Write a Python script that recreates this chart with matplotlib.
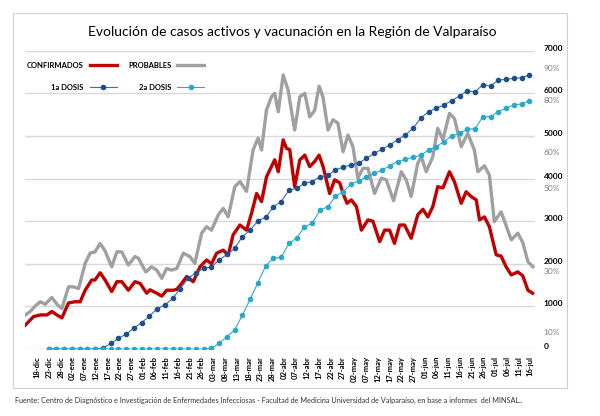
import numpy as np
import pandas as pd
import matplotlib
matplotlib.use('Agg')
import matplotlib.pyplot as plt
from matplotlib.patches import Rectangle

plt.rcParams['font.family'] = ['Lato', 'DejaVu Sans']

# Casos activos, en miles (dias contados desde el 18-dic-2020)
dias_conf = [-5.1, -1.6, 1.3, 4.1, 6.2, 8.4, 10.5, 13.3, 16.1, 18.3,
             20.4, 23.2, 24.6, 26.8, 28.9, 31.7, 33.9, 36, 38.8, 41.6,
             43.8, 46.6, 48, 50.9, 53, 55.1, 57.9, 59.4, 61.5, 63.6,
             66.4, 69.3, 72.1, 74.2, 76.4, 79.2, 81.3, 83.4, 86.3, 89.1,
             91.2, 93.4, 95.5, 97.6, 99.7, 101.1, 102.6, 104.7, 106.1, 107.5,
             109.6, 111.8, 113.9, 116, 118.1, 120, 121.7, 124.5, 126.6, 128.8,
             130.2, 131.9, 133.7, 135.9, 138, 140.8, 142.9, 145.8, 147.9, 150,
             152.1, 154.3, 156.4, 159.2, 162, 164.2, 166.3, 168.4, 170.5, 172.7,
             175.5, 177.6, 180.5, 182.6, 184.7, 186.9, 188.3, 190.4, 192.5, 195.4,
             197.5, 199.6, 201.8, 204.6, 206.7, 208.9, 210.9]
confirmados = [0.56, 0.76, 0.80, 0.80, 0.88, 0.80, 0.73, 1.08, 1.11, 1.11,
               1.38, 1.62, 1.62, 1.79, 1.62, 1.35, 1.58, 1.58, 1.38, 1.58,
               1.54, 1.31, 1.39, 1.31, 1.24, 1.38, 1.38, 1.40, 1.54, 1.70,
               1.58, 1.93, 2.09, 2.00, 2.25, 2.32, 2.20, 2.68, 2.91, 2.79,
               3.18, 3.65, 3.46, 4.04, 4.28, 4.44, 4.16, 4.91, 4.71, 4.68,
               3.81, 4.44, 4.55, 4.28, 4.40, 4.55, 4.28, 3.65, 3.97, 3.90,
               3.65, 3.42, 3.50, 3.34, 2.79, 3.03, 3.00, 2.52, 2.79, 2.79,
               2.48, 2.91, 2.91, 2.60, 3.15, 3.28, 3.10, 3.34, 3.81, 3.78,
               4.16, 3.93, 3.42, 3.69, 3.58, 3.50, 3.03, 3.10, 2.87, 2.21,
               2.18, 1.93, 1.74, 1.81, 1.72, 1.38, 1.31]

dias_prob = [-5.1, -3.0, -0.85, 1.3, 3.4, 6.2, 8.4, 10.5, 13.3, 15.4,
             17.6, 20.4, 22.5, 24.6, 26.8, 28.9, 31.7, 33.9, 36, 38.8,
             41.6, 43.1, 46.2, 48.7, 50.9, 53, 55.1, 57.2, 59.4, 62.2,
             65, 67.1, 70, 72.1, 74.2, 77.1, 79.2, 81.3, 84.1, 86.3,
             89.1, 91.9, 94, 95.5, 97.6, 99.7, 101.1, 102.6, 104.7, 106.8,
             108.2, 109.6, 111.8, 113.9, 116, 118.1, 120, 121.7, 123.8, 125.9,
             128, 130.2, 132.3, 134.4, 136.5, 138.7, 140.8, 143.6, 146.5, 148.6,
             151.7, 155, 157.1, 159.2, 162, 163.5, 165.6, 168.4, 170.5,
             172.7, 175.5, 177.6, 180.5, 183.3, 186.1, 187.6, 190.4, 192.5, 194.6,
             197.5, 199.6, 201.8, 204.6, 206.7, 208.9, 211]
probables = [0.80, 0.88, 1.01, 1.11, 1.05, 1.21, 1.05, 0.95, 1.46, 1.46,
             1.42, 2.01, 2.25, 2.28, 2.48, 2.30, 1.93, 2.28, 2.28, 1.97,
             2.17, 2.13, 1.81, 1.93, 1.85, 1.66, 1.89, 1.85, 1.89, 2.25,
             2.17, 2.01, 2.72, 2.87, 2.79, 3.15, 3.30, 3.10, 3.81, 3.93,
             3.70, 4.67, 4.95, 4.67, 5.61, 5.92, 6.00, 5.57, 6.43, 6.08,
             5.60, 5.14, 5.92, 6.00, 5.45, 5.60, 6.17, 5.90, 5.14, 5.38,
             5.30, 4.63, 5.02, 4.75, 4.01, 4.24, 4.24, 3.65, 4.01, 3.97,
             3.48, 4.16, 3.97, 3.58, 4.36, 4.51, 4.16, 4.51, 5.18,
             4.91, 5.53, 5.41, 4.75, 5.06, 4.67, 4.16, 4.30, 4.08, 2.99,
             3.22, 2.90, 2.56, 2.72, 2.50, 2.05, 1.93]

# Vacunacion (en unidades del eje derecho, miles)
dosis1 = [0, 0, 0, 0, 0, 0, 0, 0.02, 0.13, 0.25, 0.35, 0.49, 0.62, 0.77,
          0.95, 1.03, 1.19, 1.42, 1.66, 1.79, 1.89, 1.93, 2.09, 2.22, 2.36,
          2.64, 2.79, 3.01, 3.09, 3.34, 3.46, 3.73, 3.77, 3.89, 3.93, 4.04,
          4.08, 4.20, 4.27, 4.32, 4.36, 4.48, 4.59, 4.69, 4.79, 4.91, 5.02,
          5.18, 5.42, 5.57, 5.65, 5.73, 5.83, 5.94, 6.06, 6.04, 6.20, 6.17,
          6.31, 6.33, 6.35, 6.37, 6.43]
dosis2 = [0, 0, 0, 0, 0, 0, 0, 0, 0, 0, 0, 0, 0, 0, 0, 0, 0, 0, 0, 0, 0,
          0.02, 0.13, 0.29, 0.45, 0.80, 1.17, 1.56, 1.95, 2.13, 2.15, 2.48,
          2.60, 2.87, 2.95, 3.26, 3.34, 3.58, 3.69, 3.87, 3.95, 4.04, 4.12,
          4.20, 4.30, 4.40, 4.45, 4.50, 4.55, 4.67, 4.75, 4.87, 5.00, 5.06,
          5.16, 5.17, 5.45, 5.45, 5.57, 5.65, 5.73, 5.75, 5.83]

meses = {12: 'dic', 1: 'ene', 2: 'feb', 3: 'mar', 4: 'abr', 5: 'may', 6: 'jun', 7: 'jul'}
pct_labels = ['90%', '80%', '60%', '50%', '30%', '10%']
pct_pos = [6600, 5850, 4620, 3780, 1820, 400]

inicio = pd.Timestamp('2020-12-18')
fechas = inicio + pd.to_timedelta(dias_conf, unit='D')
fechas_p = inicio + pd.to_timedelta(dias_prob, unit='D')
fechas_v = pd.date_range('2020-12-22 20:00', '2021-07-15 12:00', periods=len(dosis1))
ticks = pd.date_range('2020-12-18', '2021-07-16', freq='5D')

fig = plt.figure(figsize=(6, 4.16), dpi=100)
ax = fig.add_axes([0.042, 0.161, 0.85, 0.717])

ax.plot(fechas_p, np.array(probables) * 1000, color='#a0a0a0', lw=2.4, label='PROBABLES')
ax.plot(fechas, np.array(confirmados) * 1000, color='#c00000', lw=2.4, label='CONFIRMADOS')
ax.plot(fechas_v, np.array(dosis1) * 1000, color='#2e75b6', lw=0.8, marker='o',
        ms=3, mfc='#1f4e8c', mec='#1f4e8c', label='1a DOSIS')
ax.plot(fechas_v, np.array(dosis2) * 1000, color='#31a9cf', lw=0.8, marker='o',
        ms=3, mfc='#2aa8cc', mec='#2aa8cc', label='2a DOSIS')

ax.set_ylim(0, 7000)
ax.set_xlim(pd.Timestamp('2020-12-12 21:00'), pd.Timestamp('2021-07-18'))
ax.set_yticks(range(0, 7001, 1000))
ax.grid(axis='y', color='#d9d9d9', lw=1)
ax.set_axisbelow(True)
for s in ax.spines.values():
    s.set_visible(False)

ax.set_xticks(ticks)
ax.set_xticklabels(['%02d-%s' % (d.day, meses[d.month]) for d in ticks],
                   rotation=90, fontsize=5.5, fontweight='bold')
ax.tick_params(axis='x', length=0, pad=5)

# eje de porcentajes (solo etiquetas)
ax2 = ax.twinx()
ax2.set_ylim(0, 7000)
ax2.set_yticks(pct_pos)
ax2.set_yticklabels(pct_labels, fontsize=6, color='#808080')
ax2.tick_params(axis='y', length=0, pad=6)
for s in ax2.spines.values():
    s.set_visible(False)

# twinx pone los ticks del eje principal a la izquierda
ax.yaxis.tick_right()
ax.tick_params(axis='y', length=0, labelsize=6, pad=6)
for t in ax.get_yticklabels():
    t.set_fontweight('bold')
    t.set_verticalalignment('baseline')

h, l = ax.get_legend_handles_labels()
order = [1, 2, 0, 3]
ax.legend([h[i] for i in order], [l[i] for i in order], ncol=2, markerfirst=False,
          frameon=False, loc='upper left', bbox_to_anchor=(-0.01, 0.985),
          prop={'size': 5.5, 'weight': 'bold'}, handlelength=3.5,
          columnspacing=1.5, labelspacing=1.9)

fig.text(0.487, 0.922, 'Evolución de casos activos y vacunación en la Región de Valparaíso',
         ha='center', va='center', fontsize=10)
fig.text(0.025, 0.038, 'Fuente: Centro de Diagnóstico e Investigación de Enfermedades Infecciosas'
         ' - Facultad de Medicina Universidad de Valparaíso, en base a informes  del MINSAL..',
         ha='left', va='center', fontsize=5.2, color='#333333')
fig.patches.append(Rectangle((0.022, 0.067), 0.923, 0.902, transform=fig.transFigure,
                             fill=False, ec='#d0d0d0', lw=0.8))

fig.savefig('out.png', dpi=100)
